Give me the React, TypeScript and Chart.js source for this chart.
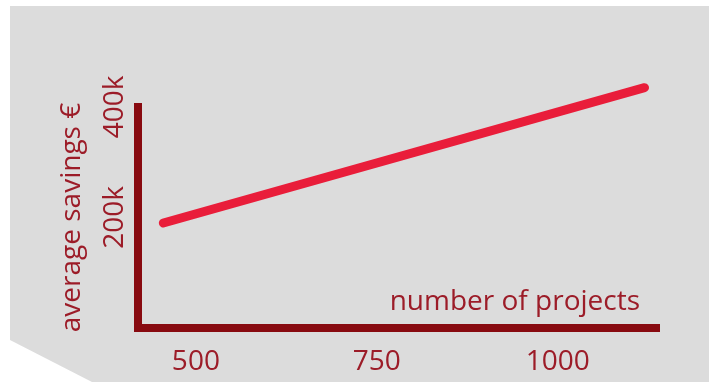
import React, { useEffect, useRef } from "react";
import { Chart, registerables } from "chart.js";

Chart.register(...registerables);

// Series: average savings against the number of projects
const projectCounts = [455, 1120];
const averageSavings = [190000, 435000];

// Axis ticks
const xTickValues = [500, 750, 1000];
const yTickValues = [200000, 400000];

const xTitle = "number of projects";
const yTitle = "average savings €";

const AXIS_RED = "#880a10";
const TEXT_RED = "#9c1c28";
const LINE_RED = "#e91d3a";
const PANEL_GREY = "#dcdcdc";
const FONT = '"Open Sans", "DejaVu Sans", sans-serif';

const panelPlugin = {
  id: "panel",
  beforeDraw(chart: any) {
    const { ctx, width, height } = chart;
    ctx.save();
    ctx.fillStyle = "#ffffff";
    ctx.fillRect(0, 0, width, height);
    ctx.fillStyle = PANEL_GREY;
    ctx.beginPath();
    ctx.moveTo(10, 6);
    ctx.lineTo(width, 6);
    ctx.lineTo(width, height);
    ctx.lineTo(92, height);
    ctx.lineTo(10, 340);
    ctx.closePath();
    ctx.fill();
    ctx.restore();
  },
};

const xTitlePlugin = {
  id: "xTitleInside",
  afterDraw(chart: any) {
    const { ctx, chartArea } = chart;
    ctx.save();
    ctx.font = `28px ${FONT}`;
    ctx.fillStyle = TEXT_RED;
    ctx.textAlign = "right";
    ctx.textBaseline = "alphabetic";
    ctx.fillText(xTitle, chartArea.right - 19, chartArea.bottom - 18);
    ctx.restore();
  },
};

export default function App() {
  const canvasRef = useRef<HTMLCanvasElement | null>(null);

  useEffect(() => {
    let chart: Chart | null = null;
    let cancelled = false;

    const build = () => {
      if (cancelled || !canvasRef.current) return;
      chart = new Chart(canvasRef.current, {
        type: "line",
        data: {
          datasets: [
            {
              data: projectCounts.map((x, i) => ({ x, y: averageSavings[i] })),
              borderColor: LINE_RED,
              borderWidth: 9,
              borderCapStyle: "round",
              pointRadius: 0,
              tension: 0,
              clip: false as any,
            },
          ],
        },
        plugins: [panelPlugin, xTitlePlugin],
        options: {
          responsive: false,
          animation: false,
          events: [],
          layout: { padding: { left: 0, top: 107, right: 50, bottom: 0 } },
          plugins: { legend: { display: false }, tooltip: { enabled: false } },
          scales: {
            x: {
              type: "linear",
              min: 420,
              max: 1140,
              grid: { display: false, drawTicks: false },
              border: { display: true, color: AXIS_RED, width: 8 },
              afterBuildTicks: (scale: any) => {
                scale.ticks = xTickValues.map((value) => ({ value }));
              },
              afterFit: (scale: any) => {
                scale.height = 54;
              },
              ticks: {
                color: TEXT_RED,
                font: { family: FONT, size: 28 },
                padding: 17,
                maxRotation: 0,
                autoSkip: false,
                callback: (v: any) => String(v),
              },
            },
            y: {
              type: "linear",
              min: 0,
              max: 400000,
              grid: { display: false, drawTicks: false },
              border: { display: true, color: AXIS_RED, width: 8 },
              afterBuildTicks: (scale: any) => {
                scale.ticks = yTickValues.map((value) => ({ value }));
              },
              afterFit: (scale: any) => {
                scale.width = 138;
              },
              title: {
                display: true,
                text: yTitle,
                color: TEXT_RED,
                font: { family: FONT, size: 28, lineHeight: 1.2 },
                padding: { top: 55, bottom: 0 },
              },
              ticks: {
                color: TEXT_RED,
                font: { family: FONT, size: 28 },
                padding: -8,
                minRotation: 90,
                maxRotation: 90,
                crossAlign: "center",
                autoSkip: false,
                callback: (v: any) => `${Number(v) / 1000}k`,
              },
            },
          },
        },
      } as any);
    };

    const fonts = (document as any).fonts;
    if (fonts && fonts.load) {
      fonts.load(`28px "Open Sans"`).then(build, build);
    } else {
      build();
    }

    return () => {
      cancelled = true;
      if (chart) chart.destroy();
    };
  }, []);

  return (
    <div style={{ position: "absolute", left: 0, top: 0, width: 709, height: 382 }}>
      <canvas ref={canvasRef} width={709} height={382} style={{ display: "block" }} />
    </div>
  );
}
